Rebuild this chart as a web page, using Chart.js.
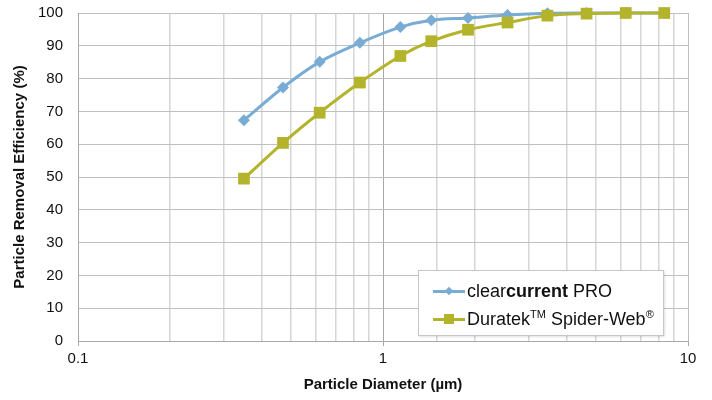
<!DOCTYPE html>
<html>
<head>
<meta charset="utf-8">
<script src="https://cdn.jsdelivr.net/npm/chart.js@4"></script>
<style>
  html, body { margin: 0; padding: 0; background: #fff; }
  #wrap { position: relative; width: 712px; height: 400px; font-family: 'Liberation Sans', Arial, sans-serif; }
  #legend { position: absolute; left: 418px; top: 270px; width: 244px; height: 64px; border: 1px solid #c6c6c6; background: #fff; box-shadow: 1px 1px 2px rgba(0,0,0,.12); }
  .row { position: absolute; left: 14px; height: 22px; display: flex; align-items: center; font-size: 18px; color: #111; white-space: nowrap; }
  .sample { position: relative; width: 32px; height: 3px; margin-right: 2px; }
  .mk { position: absolute; left: 50%; top: 50%; }
  sup { font-size: 11px; vertical-align: 7px; line-height: 0; }
</style>
</head>
<body>
<div id="wrap">
  <canvas id="c" width="712" height="400"></canvas>
  <div id="legend"></div>
</div>
<script>
  // valori
  const diameters = [0.35, 0.47, 0.62, 0.84, 1.14, 1.44, 1.9, 2.56, 3.46, 4.65, 6.25, 8.36];
  const clearcurrent = [67.3, 77.3, 85.1, 90.9, 95.7, 97.8, 98.5, 99.4, 99.9, 100, 100, 100];
  const spiderWeb = [49.5, 60.4, 69.6, 78.8, 86.9, 91.4, 94.9, 97.1, 99.2, 99.8, 100, 100];
  const xTickLabels = [0.1, 1, 10];
  const yTicks = [0, 10, 20, 30, 40, 50, 60, 70, 80, 90, 100];

  const BLUE = '#79acd5', OLIVE = '#b4b42c';
  const pts = (ys) => diameters.map((x, i) => ({ x, y: ys[i] }));
  const isDecade = (v) => Math.abs(Math.log10(v) - Math.round(Math.log10(v))) < 1e-6;

  new Chart(document.getElementById('c'), {
    type: 'line',
    data: {
      datasets: [
        { label: 'Duratek Spider-Web', data: pts(spiderWeb), order: 0, borderColor: OLIVE, backgroundColor: OLIVE,
          borderWidth: 3, pointStyle: 'rect', pointRadius: 8.3, pointHoverRadius: 8.3, pointBorderWidth: 0, tension: 0.3, clip: false },
        { label: 'clearcurrent PRO', data: pts(clearcurrent), order: 1, borderColor: BLUE, backgroundColor: BLUE,
          borderWidth: 3, pointStyle: 'rectRot', pointRadius: 6, pointHoverRadius: 6, pointBorderWidth: 0, tension: 0.3, clip: false },
      ],
    },
    options: {
      responsive: false, animation: false,
      layout: { autoPadding: false, padding: { top: 13, right: 24, left: 0, bottom: 0 } },
      plugins: { legend: { display: false }, tooltip: { enabled: false } },
      scales: {
        x: {
          type: 'logarithmic', min: 0.1, max: 10,
          afterFit: (s) => { s.height = 59; },
          afterBuildTicks: (s) => { s.ticks = s.ticks.filter((t) => t.value >= 0.1 && t.value <= 10); },
          grid: {
            color: (ctx) => { const v = ctx.tick && ctx.tick.value; if (v === undefined) return '#d9d9d9'; if (Math.abs(v - 1) < 1e-6) return '#a8a8a8'; return isDecade(v) ? '#c0c0c0' : '#d6d6d6'; },
            lineWidth: (ctx) => { const v = ctx.tick && ctx.tick.value; return v !== undefined && isDecade(v) ? 1 : 1.5; },
            tickLength: 5,
            tickColor: (ctx) => { const v = ctx.tick && ctx.tick.value; return v !== undefined && isDecade(v) ? '#a8a8a8' : 'rgba(0,0,0,0)'; },
          },
          border: { color: '#a8a8a8' },
          ticks: {
            autoSkip: false, maxRotation: 0, padding: 4, color: '#111',
            font: { family: "'Liberation Sans', Arial, sans-serif", size: 15 },
            callback: (v) => (xTickLabels.some((t) => Math.abs(t - v) < 1e-9) ? String(v) : ''),
          },
          title: { display: true, text: 'Particle Diameter (µm)', color: '#111', padding: { top: 0, bottom: 6 },
            font: { family: "'Liberation Sans', Arial, sans-serif", size: 15, weight: 'bold' } },
        },
        y: {
          min: 0, max: 100,
          afterFit: (s) => { s.width = 78; s.paddingTop = 0; s.paddingBottom = 0; },
          afterBuildTicks: (s) => { s.ticks = yTicks.map((v) => ({ value: v })); },
          grid: { color: '#c0c0c0', lineWidth: 1, drawTicks: false },
          border: { color: '#a8a8a8' },
          ticks: { padding: 15, color: '#111', font: { family: "'Liberation Sans', Arial, sans-serif", size: 15 } },
          title: { display: true, text: 'Particle Removal Efficiency (%)', color: '#111', padding: { top: 11, bottom: 0 },
            font: { family: "'Liberation Sans', Arial, sans-serif", size: 15, weight: 'bold' } },
        },
      },
    },
  });

  // legenda HTML (testo con grassetto e apici misti)
  const legendItems = [
    { color: BLUE, marker: 'diamond', html: 'clear<b>current</b> PRO' },
    { color: OLIVE, marker: 'square', html: 'Duratek<sup>TM</sup> Spider-Web<sup>®</sup>' },
  ];
  const lg = document.getElementById('legend');
  legendItems.forEach((it, i) => {
    const row = document.createElement('div');
    row.className = 'row';
    row.style.top = (9 + i * 28) + 'px';
    const mk = it.marker === 'diamond'
      ? `<span class="mk" style="width:6px;height:6px;margin:-3px 0 0 -3px;background:${it.color};transform:rotate(45deg)"></span>`
      : `<span class="mk" style="width:10px;height:10px;margin:-5px 0 0 -5px;background:${it.color}"></span>`;
    row.innerHTML = `<span class="sample" style="background:${it.color}">${mk}</span><span>${it.html}</span>`;
    lg.appendChild(row);
  });
</script>
</body>
</html>
